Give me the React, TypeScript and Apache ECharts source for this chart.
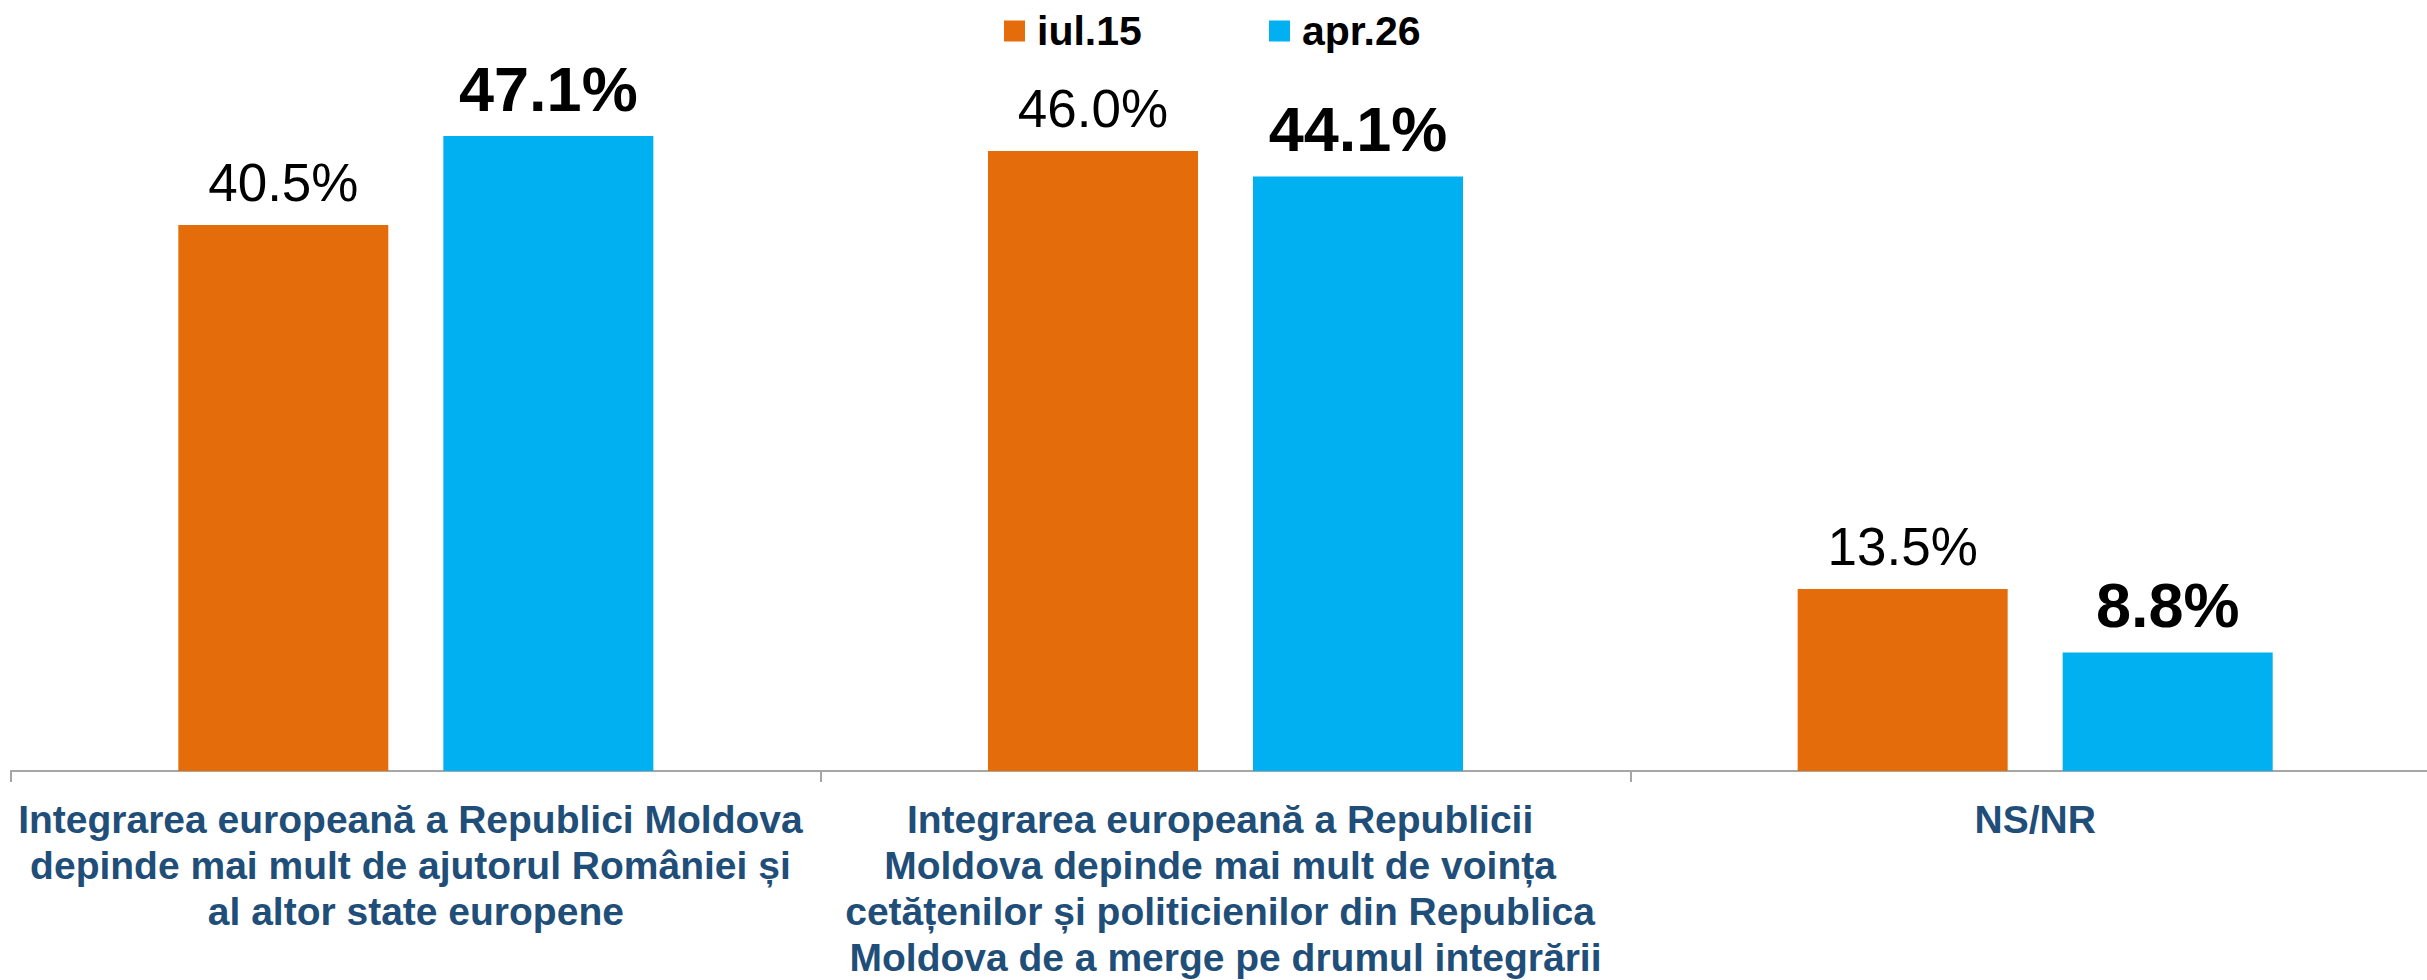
import React, { useEffect, useRef } from "react";
import * as echarts from "echarts";

const categories = [
  "Integrarea europeană a Republici Moldova \ndepinde mai mult de ajutorul României și \nal altor state europene",
  "Integrarea europeană a Republicii \nMoldova depinde mai mult de voința \ncetățenilor și politicienilor din Republica \nMoldova de a merge pe drumul integrării",
  "NS/NR",
];
const seriesNames = ["iul.15", "apr.26"];
const iul15 = [40.5, 46.0, 13.5];
const apr26 = [47.1, 44.1, 8.8];

const FONT = "'Liberation Sans', Arial, sans-serif";
const ORANGE = "#E46C0A";
const BLUE = "#00B0F0";

export default function App() {
  const ref = useRef<HTMLDivElement>(null);
  useEffect(() => {
    if (!ref.current) return;
    const chart = echarts.init(ref.current, undefined, { renderer: "svg" });
    const legendCommon = {
      top: 10,
      padding: 0,
      itemWidth: 21,
      itemHeight: 21,
      icon: "rect",
      textStyle: {
        fontFamily: FONT,
        fontSize: 41,
        fontWeight: "bold",
        color: "#000",
        lineHeight: 42,
        padding: [0, 0, 0, 7],
      },
      selectedMode: false,
    };
    chart.setOption({
      animation: false,
      backgroundColor: "#fff",
      legend: [
        { ...legendCommon, left: 1004, data: [seriesNames[0]] },
        { ...legendCommon, left: 1269, data: [seriesNames[1]] },
      ],
      grid: { left: 11, top: 97, width: 2429, height: 676, containLabel: false },
      xAxis: {
        type: "category",
        data: categories,
        boundaryGap: true,
        axisLine: { show: true, lineStyle: { color: "#A6A6A6", width: 2 } },
        axisTick: { show: true, length: 11, alignWithLabel: false, lineStyle: { color: "#A6A6A6", width: 2 } },
        axisLabel: {
          interval: 0,
          margin: 25,
          fontFamily: FONT,
          fontSize: 39,
          fontWeight: "bold",
          color: "#1F4E79",
          lineHeight: 46,
          align: "center",
          verticalAlign: "top",
        },
      },
      yAxis: {
        type: "value",
        min: 0,
        max: 50,
        show: false,
        splitLine: { show: false },
      },
      series: [
        {
          name: seriesNames[0],
          type: "bar",
          data: iul15,
          barWidth: 210,
          barGap: "26.2%",
          itemStyle: { color: ORANGE },
          label: {
            show: true,
            position: "top",
            distance: 16,
            fontFamily: FONT,
            fontSize: 53,
            lineHeight: 53,
            color: "#000",
            formatter: (p: any) => p.value.toFixed(1) + "%",
          },
        },
        {
          name: seriesNames[1],
          type: "bar",
          data: apr26,
          barWidth: 210,
          barGap: "26.2%",
          itemStyle: { color: BLUE },
          label: {
            show: true,
            position: "top",
            distance: 16,
            fontFamily: FONT,
            fontSize: 63,
            lineHeight: 63,
            fontWeight: "bold",
            color: "#000",
            formatter: (p: any) => p.value.toFixed(1) + "%",
          },
        },
      ],
    });
    return () => chart.dispose();
  }, []);
  return (
    <div
      style={{ position: "absolute", left: 0, top: 0, width: 2427, height: 980, overflow: "hidden", background: "#fff" }}
    >
      <div ref={ref} style={{ width: 2445, height: 980 }} />
    </div>
  );
}
